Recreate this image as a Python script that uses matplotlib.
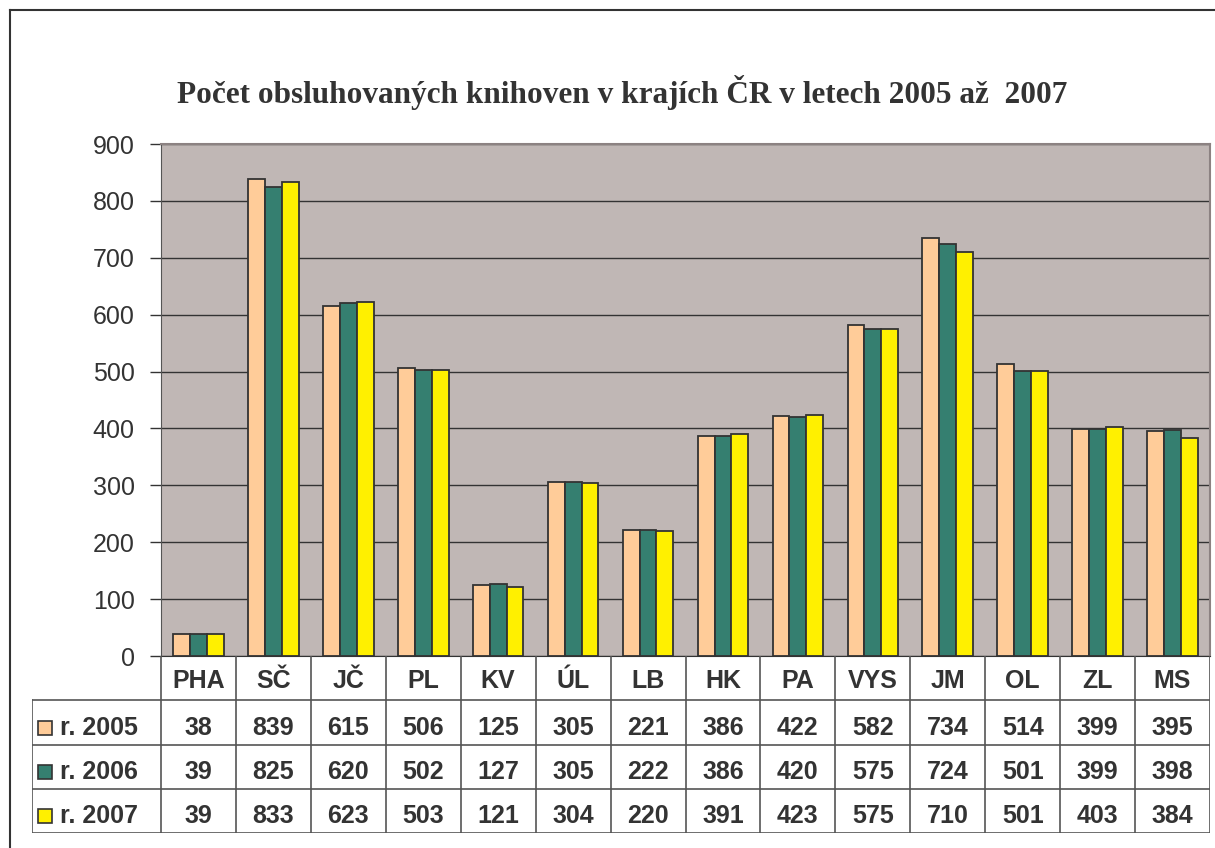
import matplotlib
matplotlib.use("Agg")

import matplotlib.pyplot as plt
from matplotlib.patches import Rectangle
from matplotlib.lines import Line2D
import numpy as np

regions = ["PHA", "SČ", "JČ", "PL", "KV", "ÚL", "LB", "HK", "PA", "VYS", "JM", "OL", "ZL", "MS"]
series_names = ["r. 2005", "r. 2006", "r. 2007"]
values_2005 = [38, 839, 615, 506, 125, 305, 221, 386, 422, 582, 734, 514, 399, 395]
values_2006 = [39, 825, 620, 502, 127, 305, 222, 386, 420, 575, 724, 501, 399, 398]
values_2007 = [39, 833, 623, 503, 121, 304, 220, 391, 423, 575, 710, 501, 403, 384]
colors = ["#FFCC99", "#357F70", "#FFF000"]

W, H = 1215, 848
fig = plt.figure(figsize=(W / 100, H / 100), dpi=100)

# outer frame (top and left lines only)
fig.add_artist(Line2D([10 / W, 1], [1 - 10 / H, 1 - 10 / H], color="#333333", lw=1.5))
fig.add_artist(Line2D([10 / W, 10 / W], [0, 1 - 10 / H], color="#333333", lw=1.5))

left, right, top, bottom = 161, 1210, 144, 656
ax = fig.add_axes([left / W, 1 - bottom / H, (right - left) / W, (bottom - top) / H])
ax.set_facecolor("#C0B7B5")

x = np.arange(len(regions))
bw = 0.225
all_values = [values_2005, values_2006, values_2007]
for i, (vals, c) in enumerate(zip(all_values, colors)):
    ax.bar(x + (i - 1) * bw, vals, width=bw, color=c, edgecolor="#333333", linewidth=1.3, zorder=3)

ax.set_xlim(-0.5, len(regions) - 0.5)
ax.set_ylim(0, 900)
ax.set_yticks(range(0, 901, 100))
ax.set_xticks([])
ax.yaxis.grid(True, color="#333333", linewidth=1, zorder=1)
ax.tick_params(axis="y", length=8, width=1, color="#333333", labelsize=18, labelcolor="#333333", pad=11)
for lbl in ax.get_yticklabels():
    lbl.set_fontfamily("Liberation Sans")
for s in ["top", "right"]:
    ax.spines[s].set_color("#8C8282")
    ax.spines[s].set_linewidth(1.5)
ax.spines["left"].set_color("#555555")
ax.spines["bottom"].set_color("#333333")

fig.text(0.512, 1 - 93 / H, "Počet obsluhovaných knihoven v krajích ČR v letech 2005 až  2007",
         ha="center", va="center", fontsize=22.5, fontweight="bold",
         family="Liberation Serif", color="#333333")

# data table below the plot
tleft = 32
tbottom = 833
cat_w = (right - left) / len(regions)
tax = fig.add_axes([tleft / W, 1 - tbottom / H, (right - tleft) / W, (tbottom - bottom) / H])
tax.set_xlim(-0.5 - (left - tleft) / cat_w, len(regions) - 0.5)
tax.set_ylim(4, 0)
tax.axis("off")
xl = -0.5 - (left - tleft) / cat_w
lc = "#555555"
for k in range(len(regions) + 1):
    tax.plot([k - 0.5, k - 0.5], [0, 4], color=lc, lw=1.2)
tax.plot([xl, xl], [1, 4], color=lc, lw=1.2)
for r in range(1, 5):
    tax.plot([xl, len(regions) - 0.5], [r, r], color=lc, lw=1.2)

tfont = dict(fontsize=18, fontweight="bold", family="Liberation Sans", color="#333333",
             ha="center", va="center")
for k, reg in enumerate(regions):
    tax.text(k, 0.56, reg, **tfont)
for r, (name, vals, c) in enumerate(zip(series_names, all_values, colors)):
    y = r + 1.62
    sq_w = 14 / cat_w
    tax.add_patch(Rectangle((xl + 6 / cat_w, y - 0.16), sq_w, 0.32, facecolor=c,
                            edgecolor="#333333", lw=1.2, clip_on=False))
    tax.text(xl + 28 / cat_w, y, name, **{**tfont, "ha": "left"})
    for k, v in enumerate(vals):
        tax.text(k, y, str(v), **tfont)

fig.savefig("out.png", dpi=100)
